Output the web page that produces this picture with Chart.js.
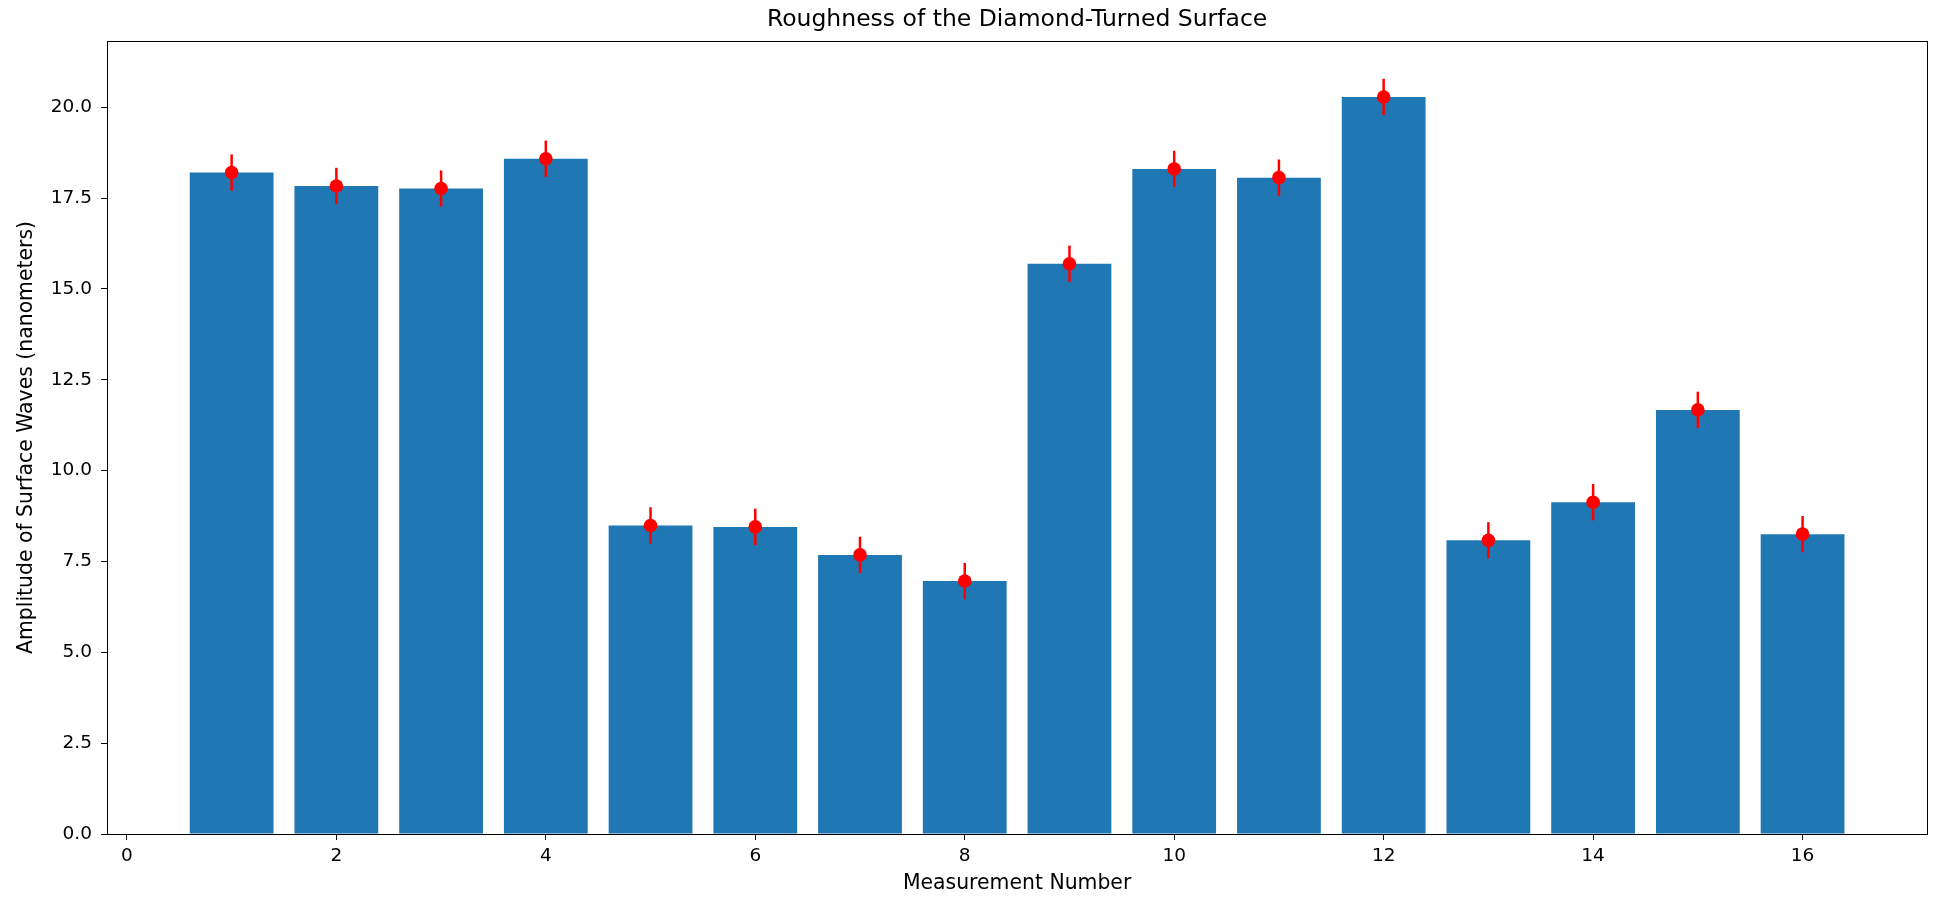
<!DOCTYPE html>
<html>
<head>
<meta charset="utf-8">
<script src="https://cdn.jsdelivr.net/npm/chart.js@4"></script>
<style>
  html, body { margin: 0; padding: 0; background: #fff; }
  #wrap { width: 1934px; height: 899px; }
</style>
</head>
<body>
<div id="wrap"><canvas id="c" width="1934" height="899"></canvas></div>
<script>
// ---- Data ----
const measurements = [1, 2, 3, 4, 5, 6, 7, 8, 9, 10, 11, 12, 13, 14, 15, 16];
const amplitudes = [18.20, 17.83, 17.76, 18.58, 8.49, 8.45, 7.68, 6.96, 15.69, 18.30, 18.06, 20.28, 8.08, 9.13, 11.67, 8.25];
const errors = [0.5, 0.5, 0.5, 0.5, 0.5, 0.5, 0.5, 0.5, 0.5, 0.5, 0.5, 0.5, 0.5, 0.5, 0.5, 0.5];
const xTickValues = [0, 2, 4, 6, 8, 10, 12, 14, 16];
const yTickValues = [0, 2.5, 5, 7.5, 10, 12.5, 15, 17.5, 20];

const FONT = "'DejaVu Sans', 'Liberation Sans', sans-serif";

const points = measurements.map((m, i) => ({ x: m, y: amplitudes[i] }));

const errorBarPlugin = {
  id: 'errorBars',
  afterDatasetDraw(chart, args) {
    if (args.index !== 1) return;
    const ctx = chart.ctx;
    const xs = chart.scales.x, ys = chart.scales.y;
    ctx.save();
    ctx.strokeStyle = '#ff0000';
    ctx.lineWidth = 2.5;
    measurements.forEach((m, i) => {
      const px = xs.getPixelForValue(m);
      ctx.beginPath();
      ctx.moveTo(px, ys.getPixelForValue(amplitudes[i] - errors[i]));
      ctx.lineTo(px, ys.getPixelForValue(amplitudes[i] + errors[i]));
      ctx.stroke();
    });
    ctx.restore();
  }
};

const framePlugin = {
  id: 'frame',
  afterDraw(chart) {
    const { ctx, chartArea: a } = chart;
    ctx.save();
    ctx.strokeStyle = '#000';
    ctx.lineWidth = 1;
    ctx.strokeRect(Math.round(a.left) + 0.5, Math.round(a.top) + 0.5,
                   Math.round(a.right - a.left), Math.round(a.bottom - a.top));
    ctx.restore();
  }
};

new Chart(document.getElementById('c'), {
  data: {
    datasets: [
      {
        type: 'scatter',
        label: 'mean',
        data: points,
        order: 0,
        pointRadius: 6.8,
        pointHoverRadius: 6.8,
        pointBackgroundColor: '#ff0000',
        pointBorderWidth: 0,
        borderColor: '#ff0000',
        showLine: false
      },
      {
        type: 'bar',
        label: 'amplitude',
        data: points,
        order: 1,
        backgroundColor: '#1f77b4',
        borderWidth: 0,
        barPercentage: 1.0,
        categoryPercentage: 0.8
      }
    ]
  },
  options: {
    responsive: false,
    devicePixelRatio: 1,
    animation: false,
    events: [],
    layout: { padding: { left: 0, right: 4, top: 0, bottom: 0 } },
    plugins: {
      legend: { display: false },
      tooltip: { enabled: false },
      title: {
        display: true,
        fullSize: false,
        text: 'Roughness of the Diamond-Turned Surface',
        color: '#000',
        font: { family: FONT, size: 23.5, weight: 'normal' },
        padding: { top: 6, bottom: 6.8 }
      }
    },
    scales: {
      x: {
        type: 'linear',
        min: -0.19,
        max: 17.19,
        offset: false,
        afterBuildTicks(scale) { scale.ticks = xTickValues.map(v => ({ value: v })); },
        afterFit(scale) { scale.height = 65; },
        ticks: {
          color: '#000',
          font: { family: FONT, size: 18.5 },
          padding: 5,
          maxRotation: 0,
          autoSkip: false,
          callback: (v) => String(v)
        },
        grid: { offset: false, drawOnChartArea: false, drawTicks: true, tickLength: 6, color: '#000', tickWidth: 1 },
        border: { display: true, color: '#000', width: 1 },
        title: {
          display: true,
          text: 'Measurement Number',
          color: '#000',
          font: { family: FONT, size: 20.4 },
          padding: { top: 0, bottom: 3 }
        }
      },
      y: {
        type: 'linear',
        min: 0,
        max: 21.82,
        afterBuildTicks(scale) { scale.ticks = yTickValues.map(v => ({ value: v })); },
        afterFit(scale) { scale.width = 107; },
        ticks: {
          color: '#000',
          font: { family: FONT, size: 18.5 },
          padding: 9,
          autoSkip: false,
          callback: (v) => Number(v).toFixed(1)
        },
        grid: { drawOnChartArea: false, drawTicks: true, tickLength: 6, color: '#000', tickWidth: 1 },
        border: { display: true, color: '#000', width: 1 },
        title: {
          display: true,
          text: 'Amplitude of Surface Waves (nanometers)',
          color: '#000',
          font: { family: FONT, size: 20.4 },
          padding: { top: 14, bottom: 0 }
        }
      }
    }
  },
  plugins: [errorBarPlugin, framePlugin]
});
</script>
</body>
</html>
